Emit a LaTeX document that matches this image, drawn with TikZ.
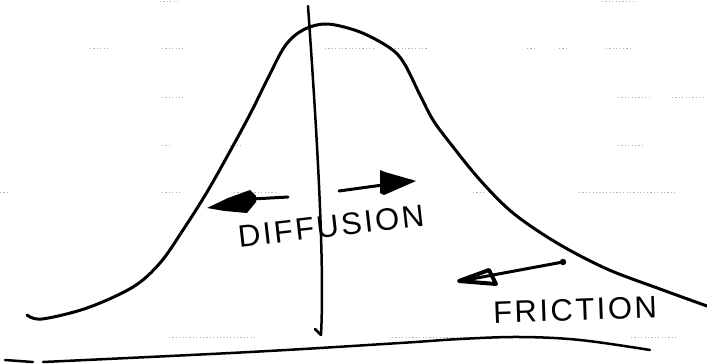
\documentclass[tikz,border=0pt]{standalone}
\usepackage{fontspec}
\setmainfont{Liberation Sans}
\begin{document}
\begin{tikzpicture}[x=1pt,y=-1pt,
  ink/.style={line width=3pt, line cap=round, line join=round},
  thinink/.style={line width=2.5pt, line cap=round, line join=round},
  ruled/.style={gray!60, line width=0.6pt, dash pattern=on 1.2pt off 2.2pt},
  hand/.style={inner sep=0pt, font=\fontsize{31}{31}\selectfont\addfontfeature{LetterSpace=8}}]
\useasboundingbox (0,0) rectangle (707,364);
% faint ruled-paper lines
\draw[ruled] (160,1) -- (178,1) (602,1) -- (636,1);
\draw[ruled] (90,48) -- (108,48) (162,48) -- (183,48) (325,48) -- (374,48) (388,48) -- (428,48) (527,48) -- (537,48) (559,48) -- (568,48) (606,48) -- (633,48);
\draw[ruled] (162,97) -- (183,97) (618,97) -- (651,97) (672,97) -- (706,97);
\draw[ruled] (162,145) -- (171,145) (230,145) -- (243,145) (618,145) -- (642,145);
\draw[ruled] (0,192) -- (9,192) (162,192) -- (180,192) (234,192) -- (277,192) (473,192) -- (485,192) (579,192) -- (676,192);
\draw[ruled] (169,337) -- (257,337) (392,337) -- (555,337) (631,337) -- (676,337);
% bell curve
\draw[ink] plot[smooth, tension=0.55] coordinates {(27,315) (42,319) (87,308) (133,287) (160,263) (183,230) (210,187) (247,120) (268,78) (285,46) (303,30) (327,24) (360,32) (390,48) (404,63) (420,95) (433,120) (450,143) (480,180) (513,213) (557,243) (607,269) (660,289) (707,306)};
% vertical line
\coordinate (vtop) at (308,6);
\coordinate (vbot) at (321,335);
\draw[thinink] (vtop) .. controls (316,120) and (325,260) .. (vbot);
\draw[thinink] (315,329) -- (vbot);
% baseline
\draw[thinink] (5,360) -- (33,362);
\draw[thinink] plot[smooth, tension=0.6] coordinates {(43,362) (250,352) (400,343) (460,339) (520,337) (580,340) (650,350)};
% diffusion arrow left
\coordinate (dl1) at (288,197);
\coordinate (dl2) at (252,199);
\draw[ink] (dl1) -- (dl2);
\fill (207,208) -- (228,198) -- (250,190) -- (256,196) -- (256,202) -- (247,213) -- (225,211) -- cycle;
% diffusion arrow right
\coordinate (dr1) at (339,191);
\coordinate (dr2) at (412,181);
\draw[ink] (dr1) -- (dr2);
\fill (380,170) -- (385,172) -- (416,181) -- (384,195) -- (380,193) -- cycle;
% friction arrow
\coordinate (fr1) at (563,262);
\coordinate (fr2) at (466,280);
\draw[ink] (fr1) -- (fr2);
\fill (563,262) circle (3.2pt);
\draw[line width=4pt, line join=round] (459,281) -- (489,270) -- (496,284) -- cycle;
% labels
\node[hand, rotate=6.4] (diff) at (331,226) {DIFFUSION};
\node[hand, rotate=2] (fric) at (575,310) {FRICTION};
\end{tikzpicture}
\end{document}
